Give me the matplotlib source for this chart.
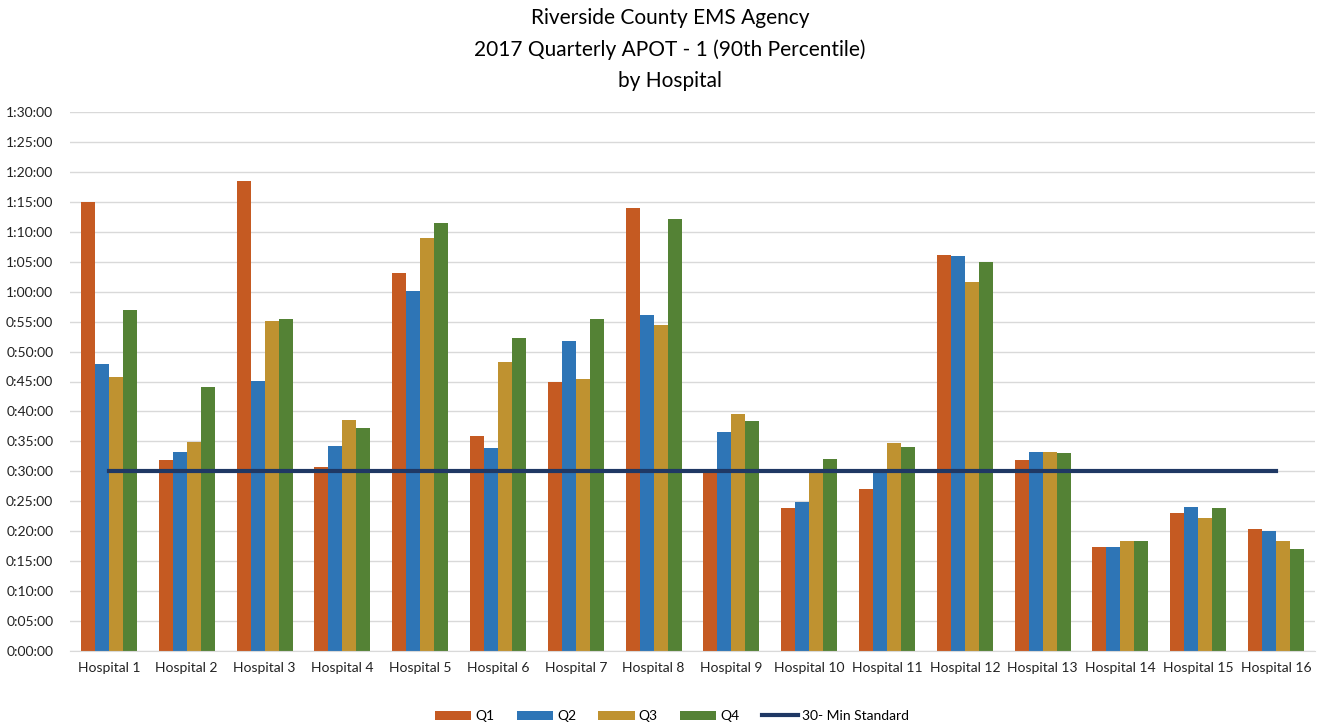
import matplotlib
matplotlib.use("Agg")
import matplotlib.pyplot as plt
import numpy as np
from matplotlib.ticker import FuncFormatter, MultipleLocator

plt.rcParams['font.family'] = ['Lato', 'DejaVu Sans']

# values in minutes (90th percentile APOT)
hospitals = ["Hospital %d" % i for i in range(1, 17)]
q1 = [75.0, 31.9, 78.4, 30.8, 63.1, 35.9, 45.0, 74.0, 30.0, 23.9, 27.1, 66.1, 31.9, 17.4, 23.0, 20.3]
q2 = [48.0, 33.3, 45.1, 34.3, 60.1, 33.9, 51.8, 56.1, 36.6, 24.9, 30.0, 65.9, 33.3, 17.4, 24.0, 20.0]
q3 = [45.7, 34.9, 55.1, 38.6, 69.0, 48.3, 45.4, 54.5, 39.6, 30.0, 34.8, 61.6, 33.3, 18.3, 22.2, 18.3]
q4 = [57.0, 44.0, 55.4, 37.2, 71.5, 52.3, 55.4, 72.2, 38.4, 32.1, 34.1, 65.0, 33.0, 18.3, 23.9, 17.0]
standard = [30] * 16

series = [("Q1", q1, "#C55A22"), ("Q2", q2, "#2E75B6"),
          ("Q3", q3, "#BF9230"), ("Q4", q4, "#548235")]

fig = plt.figure(figsize=(13.17, 7.27), dpi=100)
ax = fig.add_axes([70/1317, 1-651/727, 1245/1317, 539/727])

x = np.arange(len(hospitals))
w = 0.18
handles = []
for i, (name, vals, col) in enumerate(series):
    b = ax.bar(x + (i - 1.5) * w, vals, width=w, color=col, label=name, zorder=2)
    handles.append(b)

ln, = ax.plot(x, standard, color="#1F3864", lw=3, label="30- Min Standard", zorder=3)
handles.append(ln)

ax.set_xlim(-0.5, len(hospitals) - 0.5)
ax.set_ylim(0, 90)
ax.yaxis.set_major_locator(MultipleLocator(5))
ax.yaxis.set_major_formatter(FuncFormatter(lambda v, p: "%d:%02d:00" % (int(v) // 60, int(v) % 60)))
ax.set_xticks(x)
ax.set_xticklabels(hospitals)
ax.tick_params(length=0, labelsize=10, colors="#222222")
ax.tick_params(axis="y", pad=12)
ax.tick_params(axis="x", pad=8)
ax.grid(axis="y", color="#D9D9D9", lw=1, zorder=0)
for s in ["top", "right", "left"]:
    ax.spines[s].set_visible(False)
ax.spines["bottom"].set_color("#D9D9D9")

fig.text(670/1317, 1-18/727, "Riverside County EMS Agency", ha="center", va="center", fontsize=15)
fig.text(670/1317, 1-50/727, "2017 Quarterly APOT - 1 (90th Percentile)", ha="center", va="center", fontsize=15)
fig.text(670/1317, 1-81/727, "by Hospital", ha="center", va="center", fontsize=15)

fig.legend(handles=handles, labels=[h.get_label() for h in handles],
           loc="center", bbox_to_anchor=(672/1317, 1-716/727), ncol=5, frameon=False,
           fontsize=10, handlelength=2.6, handleheight=0.6, columnspacing=1.6, handletextpad=0.3)

fig.savefig("out.png", dpi=100)
